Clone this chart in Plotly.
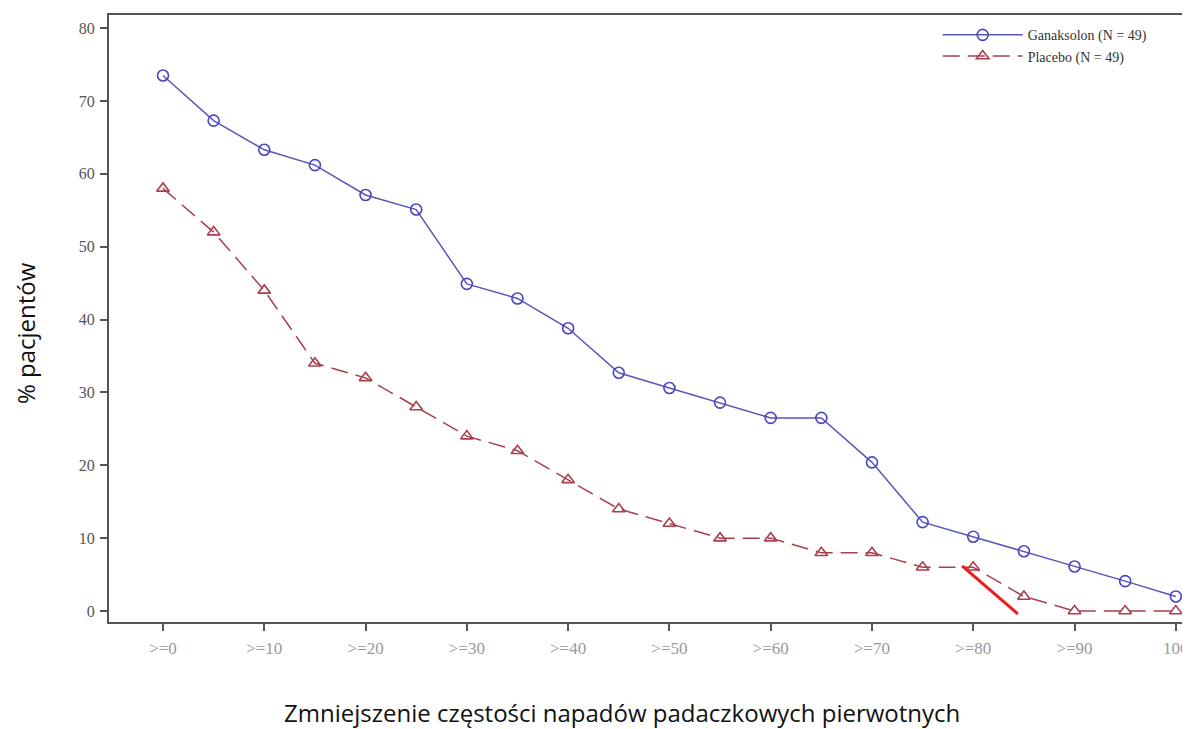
import plotly.graph_objects as go

reduction = [0, 5, 10, 15, 20, 25, 30, 35, 40, 45, 50, 55, 60, 65, 70, 75, 80, 85, 90, 95, 100]
ganaksolon = [73.5, 67.3, 63.3, 61.2, 57.1, 55.1, 44.9, 42.9, 38.8, 32.7, 30.6, 28.6, 26.5, 26.5,
              20.4, 12.2, 10.2, 8.2, 6.1, 4.1, 2.0]
placebo = [58, 52, 44, 34, 32, 28, 24, 22, 18, 14, 12, 10, 10, 8, 8, 6, 6, 2, 0, 0, 0]

tick_vals = [0, 10, 20, 30, 40, 50, 60, 70, 80, 90, 100]
tick_text = [">=0", ">=10", ">=20", ">=30", ">=40", ">=50", ">=60", ">=70", ">=80", ">=90", "100"]
y_ticks = [0, 10, 20, 30, 40, 50, 60, 70, 80]

# red highlight stroke (annotation on the picture)
red_x = [78.9, 84.4]
red_y = [6.2, -0.4]

serif = "Liberation Serif"
sans = "Open Sans"

fig = go.Figure()
fig.add_trace(go.Scatter(
    x=reduction, y=ganaksolon, mode="lines+markers", name="Ganaksolon (N = 49)",
    line=dict(color="#5a55b8", width=1.5),
    marker=dict(symbol="circle-open", size=11, color="#4a45c0", line=dict(width=1.6)),
))
fig.add_trace(go.Scatter(
    x=reduction, y=placebo, mode="lines+markers", name="Placebo (N = 49)",
    line=dict(color="#a8404e", width=1.5, dash="17px,8px"),
    marker=dict(symbol="triangle-up-open", size=11, color="#a8404e", line=dict(width=1.6)),
))
fig.add_trace(go.Scatter(
    x=red_x, y=red_y, mode="lines", showlegend=False, hoverinfo="skip",
    line=dict(color="#ee1c1c", width=3),
))

fig.update_layout(
    width=1182, height=721,
    margin=dict(l=101, r=0, t=7, b=107),
    paper_bgcolor="white", plot_bgcolor="white",
    showlegend=True,
    legend=dict(x=0.7666, y=0.993, xanchor="left", yanchor="top",
                font=dict(family=serif, size=14, color="#333"),
                bgcolor="rgba(0,0,0,0)", tracegroupgap=0, itemwidth=80),
    xaxis=dict(range=[-5.33, 101.4], tickvals=tick_vals, ticktext=tick_text,
               showgrid=False, zeroline=False, showline=True, linecolor="#555",
               linewidth=2, mirror=True, ticks="outside", ticklen=7, tickwidth=2,
               tickcolor="#555", ticklabelstandoff=3,
               tickfont=dict(family=serif, size=17, color="#999")),
    yaxis=dict(range=[-1.51, 81.8], tickvals=y_ticks, showgrid=False, zeroline=False,
               showline=True, linecolor="#555", linewidth=2, ticks="outside",
               ticklen=7, tickwidth=2, tickcolor="#555", ticklabelstandoff=2,
               tickfont=dict(family=serif, size=16, color="#555")),
    annotations=[
        dict(text="Zmniejszenie częstości napadów padaczkowych pierwotnych",
             xref="paper", yref="paper", x=0.4746, y=-0.149, xanchor="center",
             yanchor="middle", showarrow=False,
             font=dict(family=sans, size=24, color="#111")),
        dict(text="% pacjentów", xref="paper", yref="paper", x=-0.0777, y=0.476,
             xanchor="center", yanchor="middle", textangle=-90, showarrow=False,
             font=dict(family=sans, size=24, color="#111")),
    ],
)

fig.write_html("out.html")
